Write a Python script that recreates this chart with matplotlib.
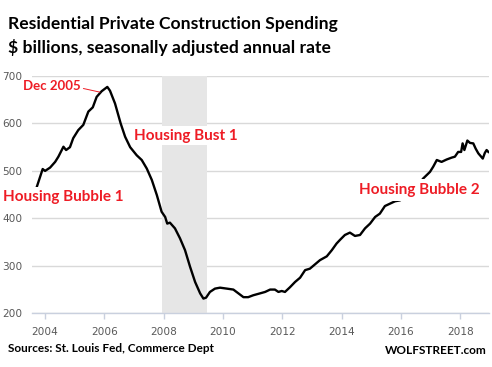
import matplotlib
matplotlib.use("Agg")
import matplotlib.pyplot as plt
from matplotlib.patches import Rectangle

# ---- data ----
dates = [2003.62, 2003.72, 2003.92, 2004.00, 2004.17, 2004.34, 2004.45, 2004.62, 2004.71,
         2004.84, 2004.95, 2005.12, 2005.29, 2005.46, 2005.61, 2005.74, 2005.91, 2006.10,
         2006.19, 2006.36, 2006.55, 2006.70, 2006.87, 2007.09, 2007.26, 2007.43, 2007.60,
         2007.77, 2007.93, 2008.05, 2008.12, 2008.21, 2008.38, 2008.55, 2008.72, 2008.89,
         2009.06, 2009.23, 2009.34, 2009.43, 2009.56, 2009.73, 2009.90, 2010.13, 2010.35,
         2010.52, 2010.69, 2010.85, 2011.02, 2011.25, 2011.42, 2011.59, 2011.75, 2011.87,
         2011.98, 2012.09, 2012.26, 2012.43, 2012.60, 2012.77, 2012.93, 2013.10, 2013.27,
         2013.50, 2013.67, 2013.83, 2013.95, 2014.11, 2014.28, 2014.45, 2014.62, 2014.79,
         2014.96, 2015.13, 2015.29, 2015.46, 2015.63, 2015.80, 2015.97, 2016.14, 2016.31,
         2016.47, 2016.64, 2016.75, 2016.98, 2017.09, 2017.21, 2017.37, 2017.54, 2017.71,
         2017.82, 2017.93, 2018.03, 2018.08, 2018.14, 2018.24, 2018.33, 2018.44, 2018.52,
         2018.61, 2018.76, 2018.83, 2018.89, 2018.95]
spending = [445, 466, 504, 500, 507, 519, 530, 551, 544,
            550, 569, 586, 597, 625, 634, 656, 668, 677,
            669, 642, 600, 572, 550, 533, 523, 505, 481,
            449, 414, 403, 389, 391, 379, 358, 333, 298,
            266, 242, 231, 233, 245, 252, 254, 252, 250,
            242, 234, 234, 238, 242, 245, 250, 250, 245,
            247, 245, 255, 266, 275, 291, 294, 303, 312,
            320, 333, 347, 355, 365, 370, 363, 365, 379,
            389, 403, 410, 426, 431, 436, 438, 445, 455,
            465, 475, 484, 498, 509, 523, 519, 524, 528,
            530, 540, 540, 558, 544, 564, 559, 558, 547,
            537, 526, 538, 544, 540]
recession = (2007.94, 2009.45)
year_ticks = [2004, 2006, 2008, 2010, 2012, 2014, 2016, 2018]
value_ticks = [200, 300, 400, 500, 600, 700]
peak_label_point = (2005.85, 666)

RED = "#EE1C25"
W, H = 492, 367
fig = plt.figure(figsize=(W / 100, H / 100), dpi=100)
ax = fig.add_axes([32 / W, 1 - 313.3 / H, (489 - 32) / W, (313.3 - 76) / H])

ax.set_xlim(2003.56, 2018.97)
ax.set_ylim(200, 700)

ax.add_patch(Rectangle((recession[0], 200), recession[1] - recession[0], 500,
                       facecolor="#E6E6E6", edgecolor="none", zorder=1))
# white gap in the band behind the "Housing Bust 1" label
ax.add_patch(Rectangle((recession[0] - 0.05, 554), recession[1] - recession[0] + 0.1, 41,
                       facecolor="white", edgecolor="none", zorder=1.1))
ax.plot(dates, spending, color="black", lw=1.7, zorder=3, solid_joinstyle="round")

ax.set_yticks(value_ticks)
ax.set_xticks(year_ticks)
ax.set_xticklabels([str(y) for y in year_ticks])
ax.set_axisbelow(True)
ax.grid(axis="y", color="#D9D9D9", lw=1.0)
for s in ["top", "right", "left"]:
    ax.spines[s].set_visible(False)
ax.spines["bottom"].set_color("#C9D0DE")
ax.spines["bottom"].set_linewidth(1.0)
ax.spines["bottom"].set_zorder(2)
ax.tick_params(axis="y", length=0, pad=7, labelsize=7.6, labelcolor="#595959")
ax.tick_params(axis="x", length=4, width=1, color="#C9D0DE", pad=6,
               labelsize=7.6, labelcolor="#595959")

font = ["Lato", "DejaVu Sans"]
box = dict(facecolor="white", edgecolor="none", pad=2.5)

def px(x, y):
    return (x / W, 1 - y / H)

# titles
fig.text(*px(8, 23.5), "Residential Private Construction Spending", family=font,
         weight="bold", fontsize=12.6, va="center", ha="left")
fig.text(*px(8, 48), "$ billions, seasonally adjusted annual rate", family=font,
         weight="bold", fontsize=12.6, va="center", ha="left")

# annotations
ax.annotate("Dec 2005", xy=peak_label_point, xycoords="data",
            xytext=px(23, 85.5), textcoords="figure fraction",
            family=font, weight="bold", fontsize=9.5, color=RED,
            va="center", ha="left", zorder=5,
            arrowprops=dict(arrowstyle="-", color=RED, lw=0.7,
                            shrinkA=0, shrinkB=0, relpos=(1, 0.3)))
fig.text(*px(134, 136), "Housing Bust 1", family=font, weight="bold", fontsize=11,
         color=RED, va="center", ha="left", zorder=5)
fig.text(*px(3, 197.5), "Housing Bubble 1", family=font, weight="bold", fontsize=11,
         color=RED, va="center", ha="left", bbox=box, zorder=5)
fig.text(*px(359, 190), "Housing Bubble 2", family=font, weight="bold", fontsize=11,
         color=RED, va="center", ha="left", bbox=box, zorder=5)

fig.text(*px(8, 348.5), "Sources: St. Louis Fed, Commerce Dept", family=font,
         weight="bold", fontsize=8.5, va="center", ha="left")
fig.text(*px(487, 350), "WOLFSTREET.com", family=font,
         weight="bold", fontsize=8.5, va="center", ha="right")

fig.savefig("out.png", dpi=100, facecolor="white")
